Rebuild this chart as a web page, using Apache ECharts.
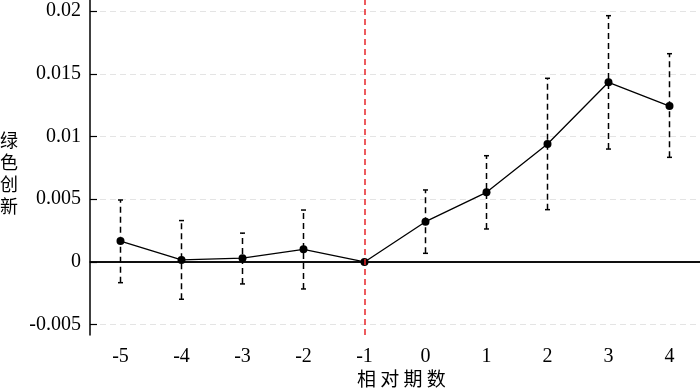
<!DOCTYPE html>
<html>
<head>
<meta charset="utf-8">
<script src="https://cdn.jsdelivr.net/npm/echarts@6/dist/echarts.min.js"></script>
<style>html,body{margin:0;padding:0;background:#fff;}#c{width:700px;height:391px;}</style>
</head>
<body>
<div id="c"></div>
<script>
const categories = ['-5','-4','-3','-2','-1','0','1','2','3','4'];
const coef  = [0.00167, 0.00016, 0.0003, 0.00101, 0, 0.00321, 0.00555, 0.0094, 0.01432, 0.01243];
const upper = [0.00494, 0.0033, 0.0023, 0.00414, 0, 0.00574, 0.00847, 0.01464, 0.01963, 0.0166];
const lower = [-0.00165, -0.00297, -0.00175, -0.00215, 0, 0.00069, 0.00263, 0.00417, 0.009, 0.00834];
const yTicks = [-0.005, 0, 0.005, 0.01, 0.015, 0.02];
const yTickLabels = ['-0.005', '0', '0.005', '0.01', '0.015', '0.02'];
const yName = '绿色创新';
const xName = '相对期数';
const eventPeriod = '-1';

const font = 'Liberation Serif';
const chart = echarts.init(document.getElementById('c'));
const errData = categories.map((c, i) => [i, lower[i], upper[i]]);

chart.setOption({
  animation: false,
  grid: {left: 90, right: 0, top: 0, bottom: 56},
  xAxis: {
    type: 'category',
    data: categories,
    boundaryGap: true,
    axisLine: {lineStyle: {color: '#000', width: 1.5}},
    axisTick: {alignWithLabel: true, inside: true, length: 7, lineStyle: {color: '#000', width: 1.2}},
    axisLabel: {color: '#000', fontFamily: font, fontSize: 20, margin: 12},
    splitLine: {show: false}
  },
  yAxis: {
    type: 'value',
    min: -0.00582,
    max: 0.02088,
    axisLine: {show: true, lineStyle: {color: '#000', width: 1.5}},
    axisTick: {show: true, inside: true, length: 7, customValues: yTicks, lineStyle: {color: '#000', width: 1.2}},
    axisLabel: {color: '#000', fontFamily: font, fontSize: 20, margin: 9, customValues: yTicks,
      formatter: v => { const i = yTicks.findIndex(t => Math.abs(t - v) < 1e-9); return i >= 0 ? yTickLabels[i] : ''; }},
    splitLine: {show: true, lineStyle: {color: '#e4e4e4', type: [6, 4], width: 1}}
  },
  graphic: [
    {type: 'text', left: 0, top: 129, style: {text: yName.split('').join('\n'), fontFamily: 'Noto Sans CJK SC', fontSize: 18, lineHeight: 22, fill: '#000'}},
    {type: 'text', left: 357, top: 369, style: {text: xName.split('').join(' '), fontFamily: 'Noto Sans CJK SC', fontSize: 19, fill: '#000'}}
  ],
  series: [
    {
      type: 'custom',
      z: 2,
      data: errData,
      renderItem: function (params, api) {
        const x = api.value(0);
        const lo = api.coord([x, api.value(1)]);
        const hi = api.coord([x, api.value(2)]);
        if (Math.abs(hi[1] - lo[1]) < 1) return null;
        const cw = 2.5;
        return {
          type: 'group',
          children: [
            {type: 'line', shape: {x1: lo[0], y1: lo[1], x2: hi[0], y2: hi[1]}, style: {stroke: '#000', lineWidth: 1.5, lineDash: [6, 4]}},
            {type: 'line', shape: {x1: hi[0] - cw, y1: hi[1], x2: hi[0] + cw, y2: hi[1]}, style: {stroke: '#000', lineWidth: 1.5}},
            {type: 'line', shape: {x1: lo[0] - cw, y1: lo[1], x2: lo[0] + cw, y2: lo[1]}, style: {stroke: '#000', lineWidth: 1.5}}
          ]
        };
      }
    },
    {
      type: 'line',
      z: 3,
      data: coef,
      symbol: 'circle',
      symbolSize: 8,
      itemStyle: {color: '#000'},
      lineStyle: {color: '#000', width: 1.3},
      markLine: {
        silent: true,
        symbol: 'none',
        label: {show: false},
        data: [
          {yAxis: 0, lineStyle: {color: '#000', width: 1.5, type: 'solid'}},
          {xAxis: eventPeriod, lineStyle: {color: '#e8262a', width: 1.5, type: [6, 4]}}
        ]
      }
    }
  ]
});
</script>
</body>
</html>
